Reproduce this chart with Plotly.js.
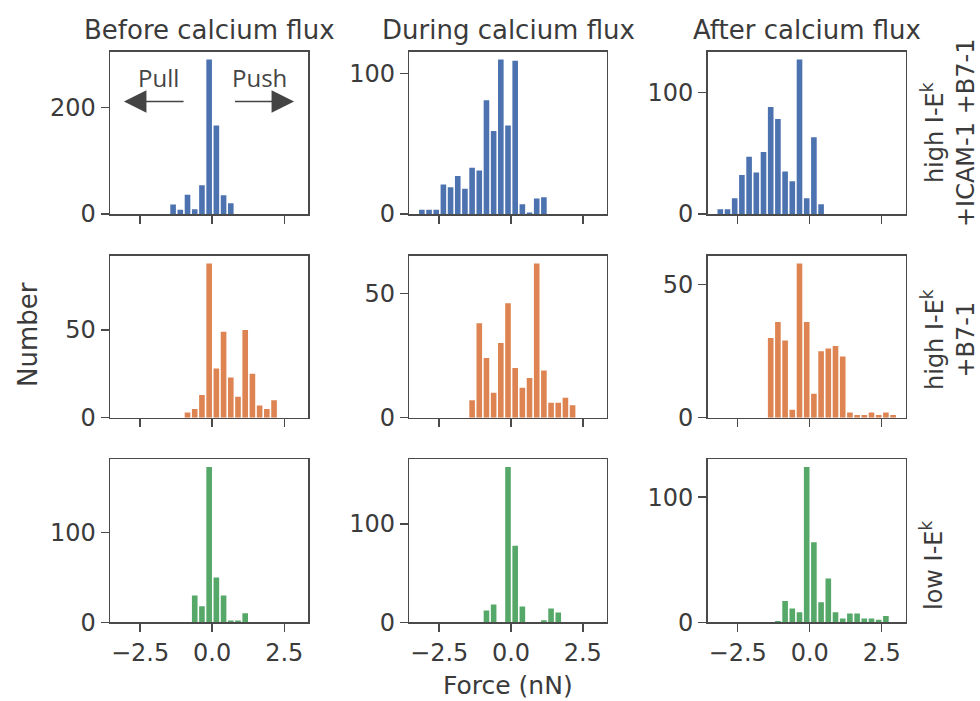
<!DOCTYPE html>
<html><head><meta charset="utf-8">
<script src="https://cdn.plot.ly/plotly-3.0.1.min.js"></script>
<style>html,body{margin:0;padding:0;background:#fff}#chart{width:980px;height:701px}</style>
</head><body><div id="chart"></div>
<script>
// shared histogram bin centres (nN), bin width 0.25
const forceBins = [-3.105, -2.855, -2.605, -2.355, -2.105, -1.855, -1.605, -1.355, -1.105, -0.855, -0.605, -0.355, -0.105,
                   0.145, 0.395, 0.645, 0.895, 1.145, 1.395, 1.645, 1.895, 2.145, 2.395, 2.645, 2.895];
// counts per bin, row 1: high I-Ek +ICAM-1 +B7-1
const beforeHighIcam = [0,0,0,0,0,0,0,18,8,36,9,54,290,166,35,20,0,0,0,0,0,0,0,0,0];
const duringHighIcam = [3,3,3,21,19,27,18,33,31,81,59,110,63,109,7,1,11,12,0,0,0,0,0,0,0];
const afterHighIcam  = [4,4,13,32,47,34,51,88,78,35,27,127,13,63,8,0,0,0,0,0,0,0,0,0,0];
// row 2: high I-Ek +B7-1
const beforeHighB7 = [0,0,0,0,0,0,0,0,0,3,5,13,88,28,49,23,12,50,25,7,5,10,0,0,0];
const duringHighB7 = [0,0,0,0,0,0,0,7,38,24,10,30,46,20,12,16,62,19,6,6,8,5,0,0,0];
const afterHighB7  = [0,0,0,0,0,0,0,30,36,29,3,58,36,9,25,26,27,23,2,1,1,2,1,2,1];
// row 3: low I-Ek
const beforeLow = [0,0,0,0,0,0,0,0,0,0,30,18,173,50,30,2,2,10,0,0,0,0,0,0,0];
const duringLow = [0,0,0,0,0,0,0,0,0,12,18,0,158,78,16,0,0,2,14,10,0,0,0,0,0];
const afterLow  = [0,0,0,0,0,0,0,0,1,17,11,8,124,64,16,35,8,3,7,7,3,3,2,5,0];

const columnTitles = ["Before calcium flux", "During calcium flux", "After calcium flux"];
const rowLabels = ["high I-E<sup>k</sup><br>+ICAM-1 +B7-1", "high I-E<sup>k</sup><br>+B7-1", "low I-E<sup>k</sup>"];
const xTickVals = [-2.5, 0, 2.5];
const xTickText = ["\u22122.5", "0.0", "2.5"];
const yTickVals = [[0, 200], [0, 100], [0, 100], [0, 50], [0, 50], [0, 50], [0, 100], [0, 100], [0, 100]];
const xAxisTitle = "Force (nN)";
const yAxisTitle = "Number";
const pullLabel = "Pull", pushLabel = "Push";

const panels = [beforeHighIcam, duringHighIcam, afterHighIcam,
                beforeHighB7, duringHighB7, afterHighB7,
                beforeLow, duringLow, afterLow];
const rowColors = ["#4C72B0", "#DD8452", "#55A868"];

const W = 980, H = 701;
const colPx = [[110, 308.3], [409.3, 606.7], [707.7, 905.7]];
const rowPx = [[51.7, 214], [255.7, 417.7], [459.3, 622.3]];
const FONT = "DejaVu Sans, sans-serif";
const TXT = "#3b3b3b", LINE = "#4a4a4a";

const data = [];
const layout = {
  width: W, height: H, margin: {l: 0, r: 0, t: 0, b: 0},
  paper_bgcolor: "#fff", plot_bgcolor: "#fff",
  showlegend: false, bargap: 0.22,
  font: {family: FONT, color: TXT, size: 24},
  annotations: []
};

panels.forEach((counts, i) => {
  const r = Math.floor(i / 3), c = i % 3;
  const suf = i === 0 ? "" : String(i + 1);
  data.push({
    type: "bar", x: forceBins, y: counts,
    xaxis: "x" + suf, yaxis: "y" + suf,
    marker: {color: rowColors[r], line: {width: 0}},
    hoverinfo: "x+y"
  });
  const ymax = Math.max(...counts) * 1.05;
  layout["xaxis" + suf] = {
    domain: [colPx[c][0] / W, colPx[c][1] / W], anchor: "y" + suf,
    range: [-3.5425, 3.3325], showgrid: false, zeroline: false,
    showline: true, mirror: true, linecolor: LINE, linewidth: 1.5,
    ticks: "outside", ticklen: 8, tickwidth: 1.5, tickcolor: LINE,
    tickmode: "array", tickvals: xTickVals, ticktext: xTickText,
    showticklabels: r === 2, tickfont: {family: FONT, size: 24, color: TXT}
  };
  layout["yaxis" + suf] = {
    domain: [(H - rowPx[r][1]) / H, (H - rowPx[r][0]) / H], anchor: "x" + suf,
    range: [0, ymax], showgrid: false, zeroline: false,
    showline: true, mirror: true, linecolor: LINE, linewidth: 1.5,
    ticks: "outside", ticklen: 8, tickwidth: 1.5, tickcolor: LINE,
    tickmode: "array", tickvals: yTickVals[i],
    tickfont: {family: FONT, size: 24, color: TXT}
  };
});

// column titles
columnTitles.forEach((t, c) => {
  layout.annotations.push({
    text: t, xref: "paper", yref: "paper",
    x: (colPx[c][0] + colPx[c][1]) / 2 / W, y: 1 - 30 / H,
    showarrow: false, xanchor: "center", yanchor: "middle",
    font: {family: FONT, size: 26, color: TXT}
  });
});
// row labels on the right
const rowLabelX = [948, 948, 932];
const rowLabelY = [133, 340, 565];
rowLabels.forEach((t, r) => {
  layout.annotations.push({
    text: t, xref: "paper", yref: "paper",
    x: rowLabelX[r] / W, y: 1 - rowLabelY[r] / H,
    showarrow: false, textangle: -90, xanchor: "center", yanchor: "middle",
    font: {family: FONT, size: 24, color: TXT}
  });
});
// axis titles
layout.annotations.push({
  text: xAxisTitle, xref: "paper", yref: "paper", x: 508 / W, y: 1 - 685 / H,
  showarrow: false, xanchor: "center", yanchor: "middle",
  font: {family: FONT, size: 25, color: TXT}
});
layout.annotations.push({
  text: yAxisTitle, xref: "paper", yref: "paper", x: 28 / W, y: 1 - 335 / H,
  showarrow: false, textangle: -90, xanchor: "center", yanchor: "middle",
  font: {family: FONT, size: 26, color: TXT}
});
// Pull / Push arrows in the first panel
layout.annotations.push({
  text: pullLabel, xref: "x", yref: "y", x: -1.87, y: 256, showarrow: false,
  font: {family: "Open Sans, sans-serif", size: 24, color: "#444"}
});
layout.annotations.push({
  text: pushLabel, xref: "x", yref: "y", x: 1.63, y: 256, showarrow: false,
  font: {family: "Open Sans, sans-serif", size: 24, color: "#444"}
});
layout.annotations.push({
  text: "", xref: "x", yref: "y", x: -3.06, y: 211, axref: "x", ayref: "y", ax: -0.94, ay: 211,
  showarrow: true, arrowhead: 2, arrowsize: 3, arrowwidth: 1.5, arrowcolor: "#444", standoff: 0
});
layout.annotations.push({
  text: "", xref: "x", yref: "y", x: 2.84, y: 211, axref: "x", ayref: "y", ax: 0.74, ay: 211,
  showarrow: true, arrowhead: 2, arrowsize: 3, arrowwidth: 1.5, arrowcolor: "#444", standoff: 0
});

Plotly.newPlot("chart", data, layout, {displayModeBar: false, staticPlot: true});
</script>
</body></html>
